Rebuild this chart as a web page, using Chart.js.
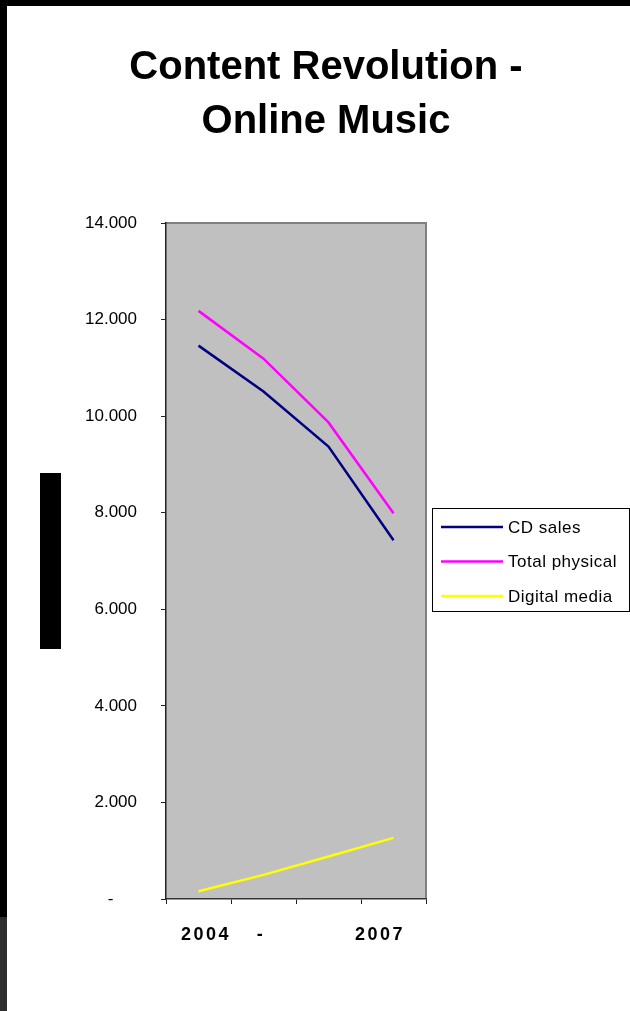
<!DOCTYPE html>
<html>
<head>
<meta charset="utf-8">
<title>Content Revolution - Online Music</title>
<script src="https://cdn.jsdelivr.net/npm/chart.js@4.4.1/dist/chart.umd.min.js"></script>
<style>
  html, body { margin: 0; padding: 0; background: #fff; }
  canvas { display: block; }
</style>
</head>
<body>
<canvas id="chart" width="630" height="1011"></canvas>
<script>
// ── Data ──
const periods = ['2004', '2005', '2006', '2007'];
const cdSales = [11460, 10510, 9370, 7430];
const totalPhysical = [12180, 11190, 9870, 7990];
const digitalMedia = [160, 500, 880, 1265];

const seriesNames = ['CD sales', 'Total physical', 'Digital media'];
const seriesColors = ['#000080', '#ff00ff', '#ffff00'];

const yTickLabels = ['-     ', '2.000', '4.000', '6.000', '8.000', '10.000', '12.000', '14.000'];
const titleLines = ['Content Revolution -', 'Online Music'];
const xCaption = ['2004', '-', '2007'];

const FONT = "'Liberation Sans', Arial, sans-serif";

// ── Page furniture: frame, plot fill ──
const backdrop = {
    id: 'backdrop',
    beforeDraw(chart) {
        const { ctx, chartArea: a, width, height } = chart;
        ctx.save();
        ctx.fillStyle = '#fff';
        ctx.fillRect(0, 0, width, height);
        ctx.fillStyle = '#000';
        ctx.fillRect(0, 0, width, 6);          // top edge
        ctx.fillRect(0, 0, 7, 917);            // left edge
        ctx.fillStyle = '#2e2e2e';
        ctx.fillRect(0, 917, 7, height - 917);
        ctx.fillStyle = '#000';
        ctx.fillRect(40, 473, 21, 176);        // cropped axis title block
        // plot area
        ctx.fillStyle = '#c0c0c0';
        ctx.fillRect(a.left, a.top, a.right - a.left, a.bottom - a.top);
        ctx.strokeStyle = '#808080';
        ctx.lineWidth = 2;
        ctx.beginPath();
        ctx.moveTo(a.left, a.top);
        ctx.lineTo(a.right, a.top);
        ctx.lineTo(a.right, a.bottom);
        ctx.stroke();
        ctx.restore();
    }
};

// ── Title, legend box, x caption ──
const decorations = {
    id: 'decorations',
    afterDraw(chart) {
        const { ctx, chartArea: a } = chart;
        ctx.save();
        ctx.fillStyle = '#000';
        ctx.textAlign = 'center';
        ctx.textBaseline = 'alphabetic';
        ctx.font = `bold 40px ${FONT}`;
        ctx.fillText(titleLines[0], 326, 79);
        ctx.fillText(titleLines[1], 326, 133);

        // x caption
        ctx.font = `bold 18px ${FONT}`;
        ctx.letterSpacing = '2.5px';
        const capX = [206, 261, 380];
        xCaption.forEach((t, i) => ctx.fillText(t, capX[i], 940));
        ctx.letterSpacing = '0px';

        // legend
        const lx = a.right + 6, ly = 508, lw = 630 - lx - 0.5, lh = 103;
        ctx.strokeStyle = '#000';
        ctx.lineWidth = 1;
        ctx.strokeRect(Math.round(lx) + 0.5, ly + 0.5, Math.round(lw) - 1, lh);
        ctx.font = `17px ${FONT}`;
        ctx.textAlign = 'left';
        ctx.textBaseline = 'middle';
        ctx.letterSpacing = '0.5px';
        seriesNames.forEach((name, i) => {
            const y = ly + 19 + i * 34.5;
            ctx.strokeStyle = seriesColors[i];
            ctx.lineWidth = 2.5;
            ctx.beginPath();
            ctx.moveTo(lx + 9, y);
            ctx.lineTo(lx + 71, y);
            ctx.stroke();
            ctx.fillText(name, lx + 76, y + 1);
        });
        ctx.restore();
    }
};

const lineSet = (label, data, color) => ({
    label, data,
    borderColor: color, backgroundColor: color,
    borderWidth: 2.5, pointRadius: 0, tension: 0, fill: false
});

new Chart(document.getElementById('chart').getContext('2d'), {
    type: 'line',
    data: {
        labels: periods,
        datasets: [
            lineSet(seriesNames[0], cdSales, seriesColors[0]),
            lineSet(seriesNames[1], totalPhysical, seriesColors[1]),
            lineSet(seriesNames[2], digitalMedia, seriesColors[2])
        ]
    },
    options: {
        responsive: false, animation: false, devicePixelRatio: 1,
        layout: { padding: { top: 223, right: 204, bottom: 0, left: 0 } },
        plugins: { legend: { display: false }, title: { display: false }, tooltip: { enabled: false } },
        scales: {
            x: {
                offset: true,
                grid: { offset: true, drawOnChartArea: false, tickLength: 5, color: '#222', lineWidth: 1 },
                border: { color: '#333', width: 1.5 },
                ticks: { display: false },
                afterFit: s => { s.height = 112; }
            },
            y: {
                min: 0, max: 14000,
                grid: { drawOnChartArea: false, tickLength: 5, color: '#222', lineWidth: 1 },
                border: { color: '#222', width: 1.5 },
                ticks: {
                    stepSize: 2000, padding: 24, color: '#000',
                    font: { size: 17, family: FONT },
                    callback: v => yTickLabels[v / 2000]
                },
                afterFit: s => { s.width = 166; }
            }
        }
    },
    plugins: [backdrop, decorations]
});
</script>
</body>
</html>
